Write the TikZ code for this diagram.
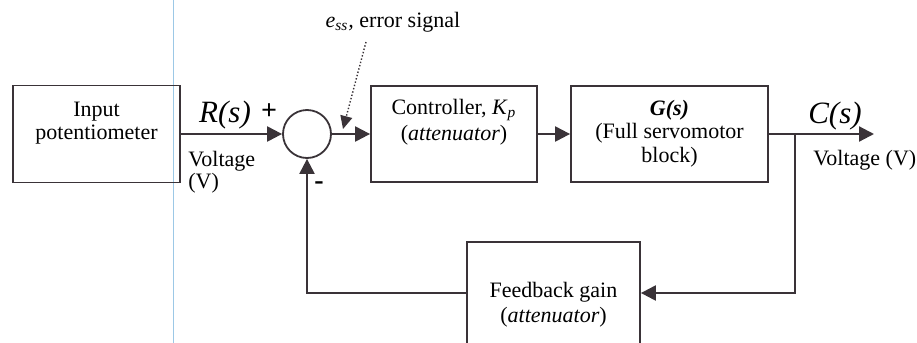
\documentclass[tikz,border=0pt]{standalone}
\usepackage{fontspec}
\setmainfont{Liberation Serif}
\usetikzlibrary{arrows.meta}
\definecolor{ln}{HTML}{3A3338}
\definecolor{scanblue}{HTML}{9CC8E6}
\begin{document}
\begin{tikzpicture}[x=0.5pt,y=-0.5pt,
  box/.style={draw=ln,line width=0.9pt,minimum width=#1,inner sep=0pt},
  txt/.style={inner sep=0pt,font=\fontsize{11}{13}\selectfont,text=black},
  big/.style={inner sep=0pt,font=\fontsize{15.5}{18}\selectfont\itshape,text=black},
  arr/.style={draw=ln,line width=1.1pt,-{Triangle[length=7.5pt,width=7.5pt]}},
  wire/.style={draw=ln,line width=1.1pt}]
\clip (0,0) rectangle (917,343);
\fill[white] (0,0) rectangle (917,343);
\draw[scanblue,line width=0.5pt] (173,0) -- (173,343);
% blocks
\node[box=83.5pt,minimum height=48.5pt] (inp) at (96.5,134) {};
\node[draw=ln,line width=0.9pt,circle,minimum size=24pt,inner sep=0pt] (sum) at (307,134) {};
\node[box=83pt,minimum height=48pt] (ctrl) at (454,134) {};
\node[box=98.5pt,minimum height=48pt] (gs) at (669.5,134) {};
\node[box=86.5pt,minimum height=51pt] (fb) at (553.5,293) {};
% texts
\node[txt] (t1) at (96.5,112) {Input};
\node[txt] (t2) at (96.5,135) {potentiometer};
\node[txt] (t3) at (454,110) {Controller, \textit{K}\textsubscript{\textit{p}}};
\node[txt] (t4) at (454,135) {(\textit{attenuator})};
\node[txt] (t5) at (669.5,110) {\textbf{\textit{G(s)}}};
\node[txt] (t6) at (669.5,133) {(Full servomotor};
\node[txt] (t7) at (669.5,157) {block)};
\node[txt] (t8) at (553.5,292) {Feedback gain};
\node[txt] (t9) at (553.5,317) {(\textit{attenuator})};
\node[big] (rs) at (225,115) {R(s)};
\node[txt,anchor=west] (v1) at (188,161) {Voltage};
\node[txt,anchor=west] (v2) at (188,183) {(V)};
\node[big] (cs) at (835,116) {C(s)};
\node[txt,anchor=west] (v3) at (813,160) {Voltage (V)};
\node[txt] (ess) at (393,22) {\textit{e\textsubscript{ss},} error signal};
\node[inner sep=0pt,font=\fontsize{14}{14}\selectfont\bfseries] (plus) at (269,112) {+};
\node[inner sep=0pt,font=\fontsize{14}{14}\selectfont\bfseries] (minus) at (319,186) {-};
% connectors
\coordinate (out) at (874,134);
\coordinate (br) at (795,134);
\draw[arr] (inp.east) -- (sum.west);
\draw[arr] (sum.east) -- (ctrl.west);
\draw[arr] (ctrl.east) -- (gs.west);
\draw[arr] (gs.east) -- (out);
\draw[arr] (br) |- (fb.east);
\draw[arr] (fb.west) -| (sum.south);
\coordinate (d1) at (366,42);
\coordinate (d2) at (343,129);
\draw[draw=ln,line width=0.7pt,densely dotted,-{Triangle[length=6.5pt,width=6pt]}] (d1) -- (d2);
\end{tikzpicture}
\end{document}
